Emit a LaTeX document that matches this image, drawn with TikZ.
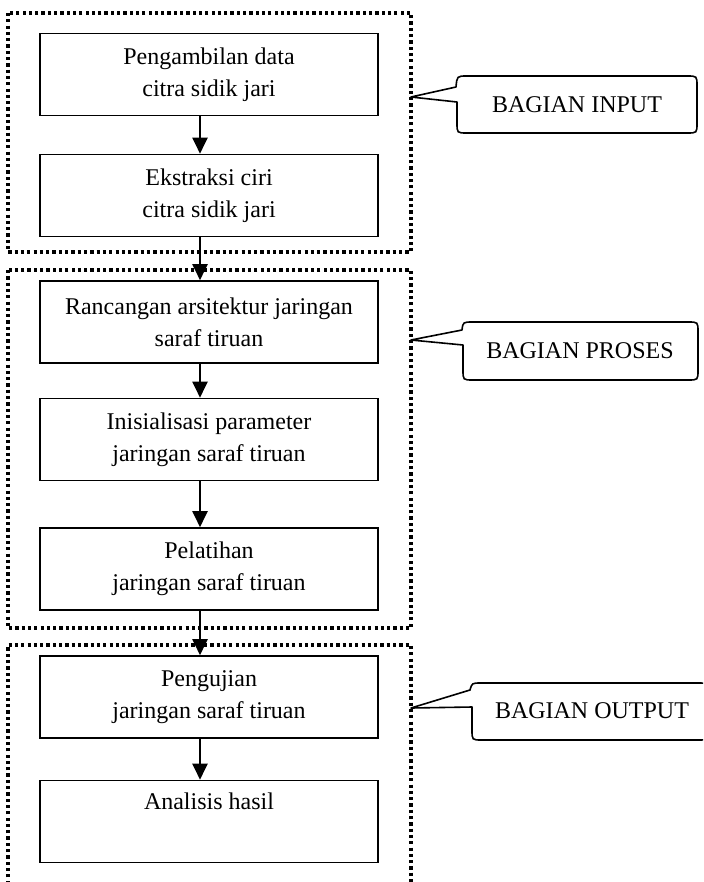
\documentclass[tikz,border=0pt]{standalone}
\usepackage{fontspec}
\setmainfont{Liberation Serif}
\usetikzlibrary{arrows.meta}
\begin{document}
\begin{tikzpicture}[x=0.5pt,y=-0.5pt,
  every node/.style={font=\fontsize{12}{16}\selectfont},
  stepbox/.style={draw,line width=0.8pt,minimum width=169pt,minimum height=41pt,align=center,inner sep=0pt},
  frame/.style={line width=1.7pt,dash pattern=on 1.6pt off 1.55pt},
  flow/.style={line width=1pt,-{Triangle[width=7.5pt,length=8pt]}},
  callout/.style={line width=0.8pt}]
\useasboundingbox (0,0) rectangle (703,882);
\begin{scope}
\clip (0,0) rectangle (703,882);
% dotted frames
\draw[frame] (8,13) rectangle (411,252);
\draw[frame] (8,270) rectangle (411,628);
\draw[frame] (8,890) -- (8,645) -- (411,645) -- (411,890);
% steps
\node[stepbox] (b1) at (209,74.5) {Pengambilan data\\citra sidik jari};
\node[stepbox] (b2) at (209,195.5) {Ekstraksi ciri\\citra sidik jari};
\node[stepbox] (b3) at (209,322) {Rancangan arsitektur jaringan\\saraf tiruan};
\node[stepbox] (b4) at (209,439.5) {Inisialisasi parameter\\jaringan saraf tiruan};
\node[stepbox] (b5) at (209,569) {Pelatihan\\jaringan saraf tiruan};
\node[stepbox] (b6) at (209,697) {Pengujian\\jaringan saraf tiruan};
\node[stepbox] (b7) at (209,821.5) {Analisis hasil\\\strut};
% arrows
\coordinate (ax) at (200,0);
\draw[flow] (b1.south -| ax) -- (b2.north -| ax);
\draw[flow] (b2.south -| ax) -- (b3.north -| ax);
\draw[flow] (b3.south -| ax) -- (b4.north -| ax);
\draw[flow] (b4.south -| ax) -- (b5.north -| ax);
\draw[flow] (b5.south -| ax) -- (b6.north -| ax);
\draw[flow] (b6.south -| ax) -- (b7.north -| ax);
% callouts
\coordinate (t1) at (411,97);
\coordinate (t2) at (411,340);
\coordinate (t3) at (411,708);
\node (c1) at (577,104.5) {BAGIAN INPUT};
\node (c2) at (580,351) {BAGIAN PROSES};
\node (c3) at (592,711) {BAGIAN OUTPUT};
\draw[callout,line join=round] (t1) -- (457,102) -- (457,123) .. controls (457,133) .. (467,133)
  -- (687,133) .. controls (697,133) .. (697,123) -- (697,86) .. controls (697,76) .. (687,76)
  -- (467,76) .. controls (457,76) .. (456,87) -- cycle;
\draw[callout,line join=round] (t2) -- (463,345) -- (463,370) .. controls (463,380) .. (473,380)
  -- (688,380) .. controls (698,380) .. (698,370) -- (698,332) .. controls (698,322) .. (688,322)
  -- (473,322) .. controls (463,322) .. (462,330) -- cycle;
\draw[callout,line join=round] (t3) -- (472,707) -- (472,730) .. controls (472,740) .. (482,740)
  -- (698,740) .. controls (708,740) .. (708,730) -- (708,693) .. controls (708,683) .. (698,683)
  -- (481,683) .. controls (472,683) .. (470,690) -- cycle;
\end{scope}
\end{tikzpicture}
\end{document}
